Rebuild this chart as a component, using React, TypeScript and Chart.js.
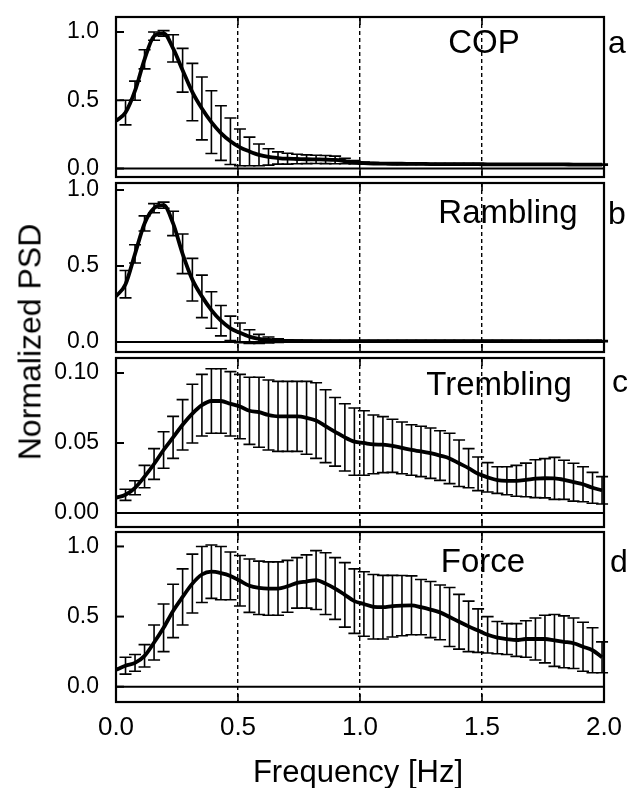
import React, { useEffect, useRef } from "react";
import { Chart, registerables } from "chart.js";

Chart.register(...registerables);

// Frequency bins [Hz]
const FREQ = [
  0.039, 0.078, 0.117, 0.156, 0.195, 0.234, 0.273, 0.313, 0.352, 0.391,
  0.430, 0.469, 0.508, 0.547, 0.586, 0.625, 0.664, 0.703, 0.742, 0.781,
  0.820, 0.859, 0.898, 0.938, 0.977, 1.016, 1.055, 1.094, 1.133, 1.172,
  1.211, 1.250, 1.289, 1.328, 1.367, 1.406, 1.445, 1.484, 1.523, 1.563,
  1.602, 1.641, 1.680, 1.719, 1.758, 1.797, 1.836, 1.875, 1.914, 1.953, 1.992,
];

// a: COP
const COP_START = 0.35;
const COP_MEAN = [
  0.41, 0.57, 0.80, 0.97, 0.99, 0.88, 0.72, 0.56, 0.44, 0.34,
  0.26, 0.20, 0.155, 0.125, 0.10, 0.085, 0.077, 0.072, 0.070, 0.068,
  0.067, 0.066, 0.063, 0.055, 0.046, 0.040, 0.037, 0.036, 0.035, 0.035,
  0.034, 0.034, 0.033, 0.033, 0.033, 0.032, 0.032, 0.032, 0.031, 0.031,
  0.031, 0.031, 0.030, 0.030, 0.030, 0.030, 0.030, 0.029, 0.029, 0.029, 0.029,
];
const COP_ERR = [
  0.09, 0.07, 0.07, 0.03, 0.02, 0.10, 0.16, 0.21, 0.23, 0.23,
  0.20, 0.17, 0.135, 0.105, 0.08, 0.06, 0.045, 0.04, 0.035, 0.032,
  0.030, 0.030, 0.028, 0.02, 0.012, 0.008, 0.006, 0.005, 0.005, 0.005,
  0.004, 0.004, 0.004, 0.004, 0.004, 0.004, 0.004, 0.004, 0.004, 0.004,
  0.004, 0.004, 0.004, 0.004, 0.004, 0.004, 0.004, 0.004, 0.004, 0.004, 0.004,
];

// b: Rambling
const RAM_START = 0.30;
const RAM_MEAN = [
  0.38, 0.58, 0.78, 0.88, 0.90, 0.78, 0.58, 0.41, 0.30, 0.21,
  0.14, 0.09, 0.06, 0.035, 0.02, 0.013, 0.009, 0.007, 0.006, 0.006,
  0.005, 0.005, 0.005, 0.005, 0.005, 0.005, 0.005, 0.005, 0.005, 0.005,
  0.005, 0.005, 0.005, 0.005, 0.005, 0.005, 0.005, 0.005, 0.005, 0.005,
  0.005, 0.005, 0.005, 0.005, 0.005, 0.005, 0.005, 0.005, 0.005, 0.005, 0.005,
];
const RAM_ERR = [
  0.09, 0.06, 0.05, 0.03, 0.02, 0.08, 0.13, 0.14, 0.14, 0.12,
  0.10, 0.08, 0.065, 0.045, 0.03, 0.02, 0.012, 0.008, 0.006, 0.005,
  0.004, 0.004, 0.004, 0.004, 0.004, 0.004, 0.004, 0.004, 0.004, 0.004,
  0.004, 0.004, 0.004, 0.004, 0.004, 0.004, 0.004, 0.004, 0.004, 0.004,
  0.004, 0.004, 0.004, 0.004, 0.004, 0.004, 0.004, 0.004, 0.004, 0.004, 0.004,
];

// c: Trembling
const TRE_START = 0.011;
const TRE_MEAN = [
  0.013, 0.018, 0.026, 0.035, 0.045, 0.054, 0.063, 0.071, 0.077, 0.080,
  0.080, 0.078, 0.076, 0.073, 0.072, 0.070, 0.069, 0.069, 0.069, 0.068,
  0.066, 0.062, 0.058, 0.054, 0.051, 0.050, 0.049, 0.0488, 0.048, 0.0465,
  0.045, 0.044, 0.0427, 0.041, 0.039, 0.0355, 0.032, 0.028, 0.0255, 0.0235,
  0.023, 0.023, 0.0236, 0.0245, 0.0248, 0.0247, 0.0237, 0.022, 0.0205, 0.018, 0.0162,
];
const TRE_ERR = [
  0.004, 0.005, 0.008, 0.011, 0.013, 0.015, 0.018, 0.021, 0.022, 0.023,
  0.023, 0.023, 0.023, 0.024, 0.025, 0.025, 0.025, 0.025, 0.025, 0.026,
  0.027, 0.026, 0.0245, 0.024, 0.024, 0.023, 0.021, 0.020, 0.019, 0.0185,
  0.018, 0.018, 0.018, 0.0177, 0.018, 0.0166, 0.014, 0.012, 0.0105, 0.0095,
  0.010, 0.011, 0.012, 0.0135, 0.014, 0.015, 0.014, 0.0135, 0.0125, 0.011, 0.0098,
];

// d: Force
const FOR_START = 0.12;
const FOR_MEAN = [
  0.15, 0.17, 0.22, 0.315, 0.42, 0.54, 0.64, 0.735, 0.80, 0.82,
  0.81, 0.79, 0.755, 0.72, 0.705, 0.70, 0.70, 0.716, 0.74, 0.75,
  0.76, 0.735, 0.70, 0.655, 0.61, 0.59, 0.57, 0.567, 0.574, 0.578,
  0.58, 0.567, 0.55, 0.53, 0.497, 0.463, 0.43, 0.40, 0.37, 0.35,
  0.34, 0.333, 0.34, 0.34, 0.34, 0.33, 0.32, 0.31, 0.285, 0.26, 0.21,
];
const FOR_ERR = [
  0.06, 0.06, 0.08, 0.125, 0.17, 0.19, 0.20, 0.21, 0.20, 0.19,
  0.19, 0.17, 0.18, 0.19, 0.19, 0.19, 0.19, 0.185, 0.18, 0.19,
  0.21, 0.22, 0.22, 0.23, 0.23, 0.23, 0.23, 0.227, 0.22, 0.215,
  0.21, 0.197, 0.20, 0.195, 0.21, 0.195, 0.18, 0.155, 0.13, 0.115,
  0.11, 0.117, 0.13, 0.15, 0.17, 0.185, 0.185, 0.18, 0.175, 0.16, 0.11,
];

const X_TICKS = [0, 0.5, 1.0, 1.5, 2.0];
const X_GRID = [0.5, 1.0, 1.5];
const Y_TICKS_UNIT = [0, 0.5, 1.0];
const Y_TICKS_TRE = [0, 0.05, 0.1];

const FONT = "'Liberation Sans', Arial, Helvetica, sans-serif";
const PLOT_LEFT = 116;
const PLOT_RIGHT = 604;
const W = 630;
const H = 788;
const PAD = 10;

type Panel = {
  title: string;
  letter: string;
  start: number;
  mean: number[];
  err: number[];
  top: number;
  bottom: number;
  yMin: number;
  yMax: number;
  yTicks: number[];
  dec: number;
  titleX: number;
  titleBase: number;
  letterX: number;
  letterBase: number;
  isBottom: boolean;
};

const PANELS: Panel[] = [
  {
    title: "COP", letter: "a", start: COP_START, mean: COP_MEAN, err: COP_ERR,
    top: 17, bottom: 177, yMin: -0.062, yMax: 1.11, yTicks: Y_TICKS_UNIT, dec: 1,
    titleX: 484, titleBase: 53, letterX: 617, letterBase: 53, isBottom: false,
  },
  {
    title: "Rambling", letter: "b", start: RAM_START, mean: RAM_MEAN, err: RAM_ERR,
    top: 183, bottom: 352, yMin: -0.066, yMax: 1.046, yTicks: Y_TICKS_UNIT, dec: 1,
    titleX: 508, titleBase: 223, letterX: 617, letterBase: 224, isBottom: false,
  },
  {
    title: "Trembling", letter: "c", start: TRE_START, mean: TRE_MEAN, err: TRE_ERR,
    top: 358, bottom: 527, yMin: -0.01, yMax: 0.1107, yTicks: Y_TICKS_TRE, dec: 2,
    titleX: 499, titleBase: 395, letterX: 620, letterBase: 392, isBottom: false,
  },
  {
    title: "Force", letter: "d", start: FOR_START, mean: FOR_MEAN, err: FOR_ERR,
    top: 532, bottom: 702, yMin: -0.109, yMax: 1.103, yTicks: Y_TICKS_UNIT, dec: 1,
    titleX: 483, titleBase: 572, letterX: 619, letterBase: 572, isBottom: true,
  },
];

const decoPlugin = {
  id: "panelDeco",
  afterDatasetsDraw(chart: any, _args: any, opts: any) {
    const p: Panel = opts.panel;
    const canvasTop: number = opts.canvasTop;
    const { ctx, chartArea } = chart;
    const xs = chart.scales.x;
    const ys = chart.scales.y;
    const { left, right, top, bottom } = chartArea;
    ctx.save();
    ctx.strokeStyle = "#000";
    ctx.fillStyle = "#000";
    ctx.setLineDash([]);

    // error bars
    ctx.lineWidth = 1.6;
    const cap = 6;
    for (let i = 0; i < FREQ.length; i++) {
      const x = xs.getPixelForValue(FREQ[i]);
      const y1 = ys.getPixelForValue(p.mean[i] + p.err[i]);
      const y2 = ys.getPixelForValue(p.mean[i] - p.err[i]);
      ctx.beginPath();
      ctx.moveTo(x, y1);
      ctx.lineTo(x, y2);
      ctx.moveTo(x - cap, y1);
      ctx.lineTo(x + cap, y1);
      ctx.moveTo(x - cap, y2);
      ctx.lineTo(x + cap, y2);
      ctx.stroke();
    }

    // zero line
    const y0 = ys.getPixelForValue(0);
    ctx.lineWidth = 2;
    ctx.beginPath();
    ctx.moveTo(left, y0);
    ctx.lineTo(right, y0);
    ctx.stroke();

    // frame
    ctx.lineWidth = 2.2;
    ctx.strokeRect(left, top, right - left, bottom - top);

    // inward y ticks
    ctx.lineWidth = 2;
    p.yTicks.forEach((v) => {
      const y = ys.getPixelForValue(v);
      ctx.beginPath();
      ctx.moveTo(left, y);
      ctx.lineTo(left + 8, y);
      ctx.stroke();
    });
    // inward x ticks
    ctx.lineWidth = 1.6;
    X_GRID.forEach((v) => {
      const x = xs.getPixelForValue(v);
      ctx.beginPath();
      ctx.moveTo(x, bottom);
      ctx.lineTo(x, bottom - 8);
      ctx.moveTo(x, top);
      ctx.lineTo(x, top + 8);
      ctx.stroke();
    });

    // texts
    ctx.textBaseline = "alphabetic";
    ctx.textAlign = "center";
    ctx.font = `33px ${FONT}`;
    ctx.fillText(p.title, p.titleX, p.titleBase - canvasTop);
    ctx.font = `32px ${FONT}`;
    ctx.fillText(p.letter, p.letterX, p.letterBase - canvasTop);
    if (p.isBottom) {
      ctx.font = `31px ${FONT}`;
      ctx.fillText("Frequency [Hz]", 358, 782 - canvasTop);
    }
    ctx.restore();
  },
};

function PanelChart({ p }: { p: Panel }) {
  const ref = useRef<HTMLCanvasElement | null>(null);
  const canvasTop = p.top - PAD;
  const canvasH = p.isBottom ? H - canvasTop : p.bottom - p.top + 2 * PAD;

  useEffect(() => {
    if (!ref.current) return;
    const lineData = [{ x: 0, y: p.start }].concat(
      FREQ.map((f, i) => ({ x: f, y: p.mean[i] }))
    );
    const chart = new Chart(ref.current, {
      type: "line",
      data: {
        datasets: [
          {
            data: lineData,
            borderColor: "#000",
            borderWidth: 3.8,
            pointRadius: 0,
            fill: false,
            cubicInterpolationMode: "monotone",
          },
        ],
      },
      options: {
        animation: false,
        responsive: false,
        maintainAspectRatio: false,
        devicePixelRatio: 1,
        layout: {
          padding: { top: PAD, right: W - PLOT_RIGHT, left: 0, bottom: p.isBottom ? 0 : PAD },
        },
        plugins: {
          legend: { display: false },
          tooltip: { enabled: false },
          panelDeco: { panel: p, canvasTop },
        } as any,
        scales: {
          x: {
            type: "linear",
            min: 0,
            max: 2,
            afterBuildTicks: (s: any) => {
              s.ticks = X_TICKS.map((v) => ({ value: v }));
            },
            afterFit: (s: any) => {
              s.height = p.isBottom ? H - p.bottom : 0;
              s.paddingLeft = 0;
              s.paddingRight = 0;
              s.paddingTop = 0;
              s.paddingBottom = 0;
            },
            grid: {
              color: (c: any) =>
                c.tick && X_GRID.includes(c.tick.value) ? "#000" : "rgba(0,0,0,0)",
              lineWidth: 1.4,
              drawTicks: false,
            },
            border: { display: false, dash: [4, 3] },
            ticks: {
              display: p.isBottom,
              padding: 10,
              color: "#000",
              font: { family: FONT, size: 26 },
              maxRotation: 0,
              autoSkip: false,
              callback: (v: any) => Number(v).toFixed(1),
            },
          },
          y: {
            type: "linear",
            min: p.yMin,
            max: p.yMax,
            afterBuildTicks: (s: any) => {
              s.ticks = p.yTicks.map((v) => ({ value: v }));
            },
            afterFit: (s: any) => {
              s.width = PLOT_LEFT;
              s.paddingTop = 0;
              s.paddingBottom = 0;
              s.paddingLeft = 0;
              s.paddingRight = 0;
            },
            grid: { display: false },
            border: { display: false },
            ticks: {
              padding: 9,
              color: "#000",
              font: { family: FONT, size: 23 },
              callback: (v: any) => Number(v).toFixed(p.dec),
            },
          },
        },
      } as any,
      plugins: [decoPlugin],
    });
    return () => chart.destroy();
  }, []);

  return (
    <canvas
      ref={ref}
      width={W}
      height={canvasH}
      style={{ position: "absolute", left: 0, top: canvasTop, width: W, height: canvasH }}
    />
  );
}

export default function App() {
  return (
    <div
      style={{
        position: "absolute",
        left: 0,
        top: 0,
        width: W,
        height: H,
        background: "#fff",
        overflow: "hidden",
      }}
    >
      {PANELS.map((p) => (
        <PanelChart key={p.letter} p={p} />
      ))}
      <div
        style={{
          position: "absolute",
          left: 30,
          top: 342,
          transform: "translate(-50%, -50%) rotate(-90deg)",
          fontFamily: FONT,
          fontSize: 32,
          whiteSpace: "nowrap",
          color: "#000",
        }}
      >
        Normalized PSD
      </div>
    </div>
  );
}
